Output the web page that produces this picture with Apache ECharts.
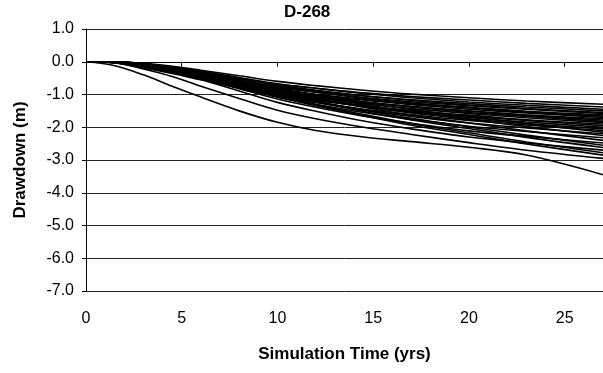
<!DOCTYPE html>
<html>
<head>
<meta charset="utf-8">
<script src="https://cdn.jsdelivr.net/npm/echarts@6/dist/echarts.min.js"></script>
<style>
  html, body { margin: 0; padding: 0; background: #fff; }
  #chart { width: 603px; height: 373px; }
</style>
</head>
<body>
<div id="chart"></div>
<script>
// simulation years shared by every realisation
const years = [0, 1.5, 3, 4.5, 6, 8, 10, 12, 14.5, 17, 20, 23, 27];

// drawdown realisations (m), upper edge of the bundle first
const run01 = [0, 0, -0.05, -0.14, -0.26, -0.43, -0.60, -0.73, -0.87, -0.99, -1.10, -1.20, -1.30];
const run02 = [0, -0.01, -0.10, -0.21, -0.35, -0.52, -0.69, -0.81, -0.95, -1.06, -1.17, -1.27, -1.38];
const run03 = [0, 0, -0.06, -0.16, -0.29, -0.48, -0.67, -0.81, -0.97, -1.10, -1.23, -1.33, -1.45];
const run04 = [0, -0.02, -0.11, -0.23, -0.38, -0.57, -0.75, -0.89, -1.04, -1.16, -1.28, -1.38, -1.50];
const run05 = [0, 0, -0.06, -0.17, -0.31, -0.51, -0.71, -0.87, -1.04, -1.18, -1.32, -1.43, -1.55];
const run06 = [0, -0.02, -0.11, -0.24, -0.40, -0.60, -0.79, -0.93, -1.09, -1.22, -1.34, -1.45, -1.58];
const run07 = [0, -0.03, -0.16, -0.31, -0.47, -0.68, -0.86, -1.00, -1.15, -1.28, -1.39, -1.51, -1.62];
const run08 = [0, 0, -0.07, -0.18, -0.33, -0.55, -0.76, -0.93, -1.11, -1.26, -1.41, -1.53, -1.66];
const run09 = [0, -0.02, -0.12, -0.26, -0.43, -0.65, -0.85, -1.00, -1.17, -1.31, -1.45, -1.56, -1.70];
const run10 = [0, -0.03, -0.17, -0.33, -0.50, -0.73, -0.92, -1.08, -1.24, -1.37, -1.50, -1.62, -1.74];
const run11 = [0, -0.02, -0.12, -0.27, -0.45, -0.68, -0.89, -1.05, -1.23, -1.37, -1.51, -1.64, -1.78];
const run12 = [0, 0, -0.07, -0.20, -0.36, -0.60, -0.84, -1.02, -1.22, -1.38, -1.55, -1.67, -1.82];
const run13 = [0, -0.02, -0.13, -0.28, -0.47, -0.71, -0.93, -1.10, -1.28, -1.43, -1.58, -1.71, -1.86];
const run14 = [0, -0.04, -0.19, -0.36, -0.55, -0.80, -1.01, -1.18, -1.35, -1.50, -1.63, -1.77, -1.90];
const run15 = [0, -0.02, -0.14, -0.29, -0.49, -0.74, -0.98, -1.15, -1.35, -1.50, -1.66, -1.79, -1.95];
const run16 = [0, 0, -0.08, -0.22, -0.40, -0.66, -0.92, -1.12, -1.34, -1.52, -1.70, -1.84, -2.00];
const run17 = [0, 0, -0.08, -0.23, -0.41, -0.68, -0.94, -1.15, -1.37, -1.56, -1.74, -1.89, -2.05];
const run18 = [0, -0.02, -0.15, -0.32, -0.53, -0.80, -1.05, -1.24, -1.45, -1.62, -1.79, -1.93, -2.10];
const run19 = [0, -0.01, -0.11, -0.24, -0.39, -0.60, -0.82, -1.01, -1.25, -1.46, -1.68, -1.89, -2.15];
const run20 = [0, 0, -0.09, -0.24, -0.44, -0.73, -1.01, -1.23, -1.47, -1.67, -1.87, -2.02, -2.20];
const run21 = [0, -0.01, -0.11, -0.25, -0.41, -0.63, -0.86, -1.06, -1.31, -1.53, -1.76, -1.98, -2.25];
const run22 = [0, 0, -0.09, -0.26, -0.46, -0.77, -1.07, -1.30, -1.55, -1.76, -1.97, -2.13, -2.32];
const run23 = [0, -0.01, -0.12, -0.26, -0.43, -0.67, -0.91, -1.13, -1.39, -1.63, -1.87, -2.11, -2.40];
const run24 = [0, 0, -0.10, -0.27, -0.50, -0.82, -1.14, -1.39, -1.66, -1.88, -2.11, -2.28, -2.48];
const run25 = [0, -0.01, -0.13, -0.28, -0.46, -0.71, -0.97, -1.20, -1.48, -1.73, -1.99, -2.24, -2.55];
const run26 = [0, -0.01, -0.13, -0.29, -0.47, -0.73, -1.00, -1.23, -1.52, -1.78, -2.04, -2.31, -2.62];
const run27 = [0, 0, -0.11, -0.30, -0.54, -0.89, -1.24, -1.51, -1.81, -2.05, -2.30, -2.48, -2.70];
const run28 = [0, -0.01, -0.14, -0.31, -0.50, -0.78, -1.06, -1.31, -1.61, -1.89, -2.17, -2.45, -2.78];
const run29 = [0, -0.01, -0.14, -0.31, -0.51, -0.80, -1.08, -1.34, -1.65, -1.94, -2.22, -2.51, -2.85];
const run30 = [0, -0.03, -0.22, -0.45, -0.75, -1.12, -1.48, -1.74, -2.00, -2.22, -2.47, -2.70, -2.95];
const run31 = [0, -0.12, -0.40, -0.75, -1.08, -1.50, -1.85, -2.10, -2.30, -2.44, -2.61, -2.85, -3.45];

const runs = [run01, run02, run03, run04, run05, run06, run07, run08, run09, run10,
    run11, run12, run13, run14, run15, run16, run17, run18, run19, run20,
    run21, run22, run23, run24, run25, run26, run27, run28, run29, run30, run31];

const yTicks = [-7, -6, -5, -4, -3, -2, -1, 0, 1];

const font = 'Liberation Sans, Arial, sans-serif';

const series = runs.map((run, i) => ({
    name: 'run' + (i + 1),
    type: 'line',
    data: years.map((t, j) => [t, run[j]]),
    smooth: 0.35,
    showSymbol: false,
    silent: true,
    lineStyle: {color: '#000', width: 1.6}
}));

const myChart = echarts.init(document.getElementById('chart'), null, {renderer: 'canvas'});

const option = {
    animation: false,
    backgroundColor: '#fff',
    title: {
        text: 'D-268',
        left: 284,
        top: 4,
        padding: 0,
        textStyle: {fontFamily: font, fontSize: 17, fontWeight: 'bold', color: '#000'}
    },
    grid: {left: 86, right: 0, top: 29, bottom: 82},
    xAxis: {
        type: 'value',
        min: 0,
        max: 27,
        interval: 5,
        name: 'Simulation Time (yrs)',
        nameLocation: 'middle',
        nameGap: 55,
        nameTextStyle: {fontFamily: font, fontSize: 17, fontWeight: 'bold', color: '#000'},
        axisLine: {lineStyle: {color: '#000', width: 1}},
        axisTick: {show: true, inside: false, length: 5, lineStyle: {color: '#000'}},
        axisLabel: {fontFamily: font, fontSize: 16, color: '#000', margin: 20, showMaxLabel: false},
        splitLine: {show: false}
    },
    yAxis: {
        type: 'value',
        min: yTicks[0],
        max: yTicks[yTicks.length - 1],
        interval: 1,
        name: 'Drawdown (m)',
        nameLocation: 'middle',
        nameGap: 57,
        nameTextStyle: {fontFamily: font, fontSize: 17, fontWeight: 'bold', color: '#000'},
        axisLine: {show: true, lineStyle: {color: '#000', width: 1}},
        axisTick: {show: true, inside: false, length: 4, lineStyle: {color: '#000'}},
        axisLabel: {
            fontFamily: font, fontSize: 16, color: '#000', margin: 12,
            formatter: v => v.toFixed(1)
        },
        splitLine: {show: true, lineStyle: {color: '#222', width: 1}}
    },
    series: series
};

option && myChart.setOption(option);
</script>
</body>
</html>
